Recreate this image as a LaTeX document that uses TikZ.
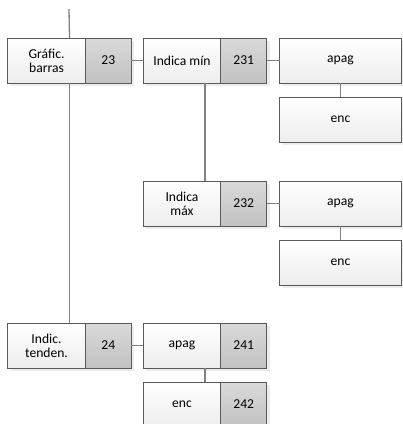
\documentclass[tikz,border=0pt]{standalone}
\usepackage{fontspec}
\setmainfont{Carlito}
\usetikzlibrary{shadows, positioning, calc}

\begin{document}
\begin{tikzpicture}[
        x=1pt, y=-1pt,
        box/.style={rectangle, draw=black!65, line width=0.9pt, outer sep=0pt, minimum height=45pt, inner sep=1pt, align=center, font=\fontsize{13.6}{14}\selectfont, drop shadow={shadow xshift=3pt, shadow yshift=-3pt, fill=black!15}},
        lbl/.style={box, top color=white, bottom color=black!7, minimum width=77.5pt},
        num/.style={box, top color=black!15, bottom color=black!24, minimum width=46pt},
        leaf/.style={box, top color=white, bottom color=black!7, minimum width=122pt},
        link/.style={draw=black!50, line width=1.3pt}
    ]
        \useasboundingbox (0,0) rectangle (403,424);
        \coordinate (top) at (69, 9);
        \node[lbl] (graf) at (46.5, 60.5) {Gráfic.\\barras};
        \node[num, right=0pt of graf] (graf-n) {23};
        \node[lbl] (imin) at (182, 60.5) {Indica mín};
        \node[num, right=0pt of imin] (imin-n) {231};
        \node[leaf] (apag1) at (340.5, 60.5) {apag};
        \node[leaf] (enc1) at (340.5, 119.5) {enc};
        \node[lbl] (imax) at (182, 203.5) {Indica\\máx};
        \node[num, right=0pt of imax] (imax-n) {232};
        \node[leaf] (apag2) at (340.5, 203.5) {apag};
        \node[leaf] (enc2) at (340.5, 262.5) {enc};
        \node[lbl] (tend) at (46.5, 345.5) {Indic.\\tenden.};
        \node[num, right=0pt of tend] (tend-n) {24};
        \node[lbl] (apag3) at (182, 345.5) {apag};
        \node[num, right=0pt of apag3] (apag3-n) {241};
        \node[lbl] (enc3) at (182, 404.5) {enc};
        \node[num, right=0pt of enc3] (enc3-n) {242};
        \draw[link] (top) -- ($(graf.north west)!0.5!(graf-n.north east)$);
        \draw[link] ($(graf.south west)!0.5!(graf-n.south east)$) -- ($(tend.north west)!0.5!(tend-n.north east)$);
        \draw[link] (graf-n.east) -- (imin.west);
        \draw[link] (imin-n.east) -- (apag1.west);
        \draw[link] (apag1) -- (enc1);
        \draw[link] ($(imin.south west)!0.5!(imin-n.south east)$) -- ($(imax.north west)!0.5!(imax-n.north east)$);
        \draw[link] (imax-n.east) -- (apag2.west);
        \draw[link] (apag2) -- (enc2);
        \draw[link] (tend-n.east) -- (apag3.west);
        \draw[link] ($(apag3.south west)!0.5!(apag3-n.south east)$) -- ($(enc3.north west)!0.5!(enc3-n.north east)$);
    \end{tikzpicture}
\end{document}
